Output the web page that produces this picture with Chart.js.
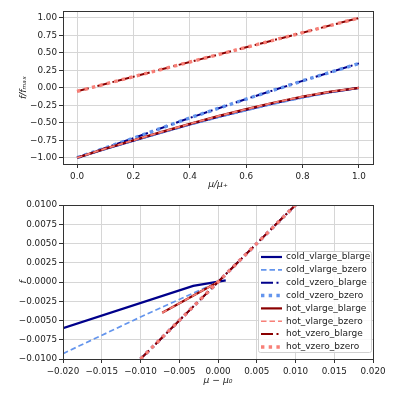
<!DOCTYPE html>
<html>
<head>
<meta charset="utf-8">
<script src="https://cdn.jsdelivr.net/npm/chart.js@4"></script>
<style>
  body { margin: 0; background: #fff; }
  #wrap { position: relative; width: 395px; height: 395px; }
  canvas { position: absolute; left: 0; }
</style>
</head>
<body>
<div id="wrap">
  <canvas id="topChart" width="395" height="197" style="top:0"></canvas>
  <canvas id="botChart" width="395" height="198" style="top:197px"></canvas>
</div>
<script>
// --- data ---
const seriesNames = ['cold_vlarge_blarge', 'cold_vlarge_bzero', 'cold_vzero_blarge', 'cold_vzero_bzero',
                     'hot_vlarge_blarge', 'hot_vlarge_bzero', 'hot_vzero_blarge', 'hot_vzero_bzero'];

// top panel: f/fmax against mu/mu+
const topMu = [0, 0.1, 0.2, 0.3, 0.4, 0.5, 0.6, 0.7, 0.8, 0.9, 1.0];
const topColdVlargeBlarge = [-1, -0.875, -0.755, -0.64, -0.525, -0.415, -0.315, -0.22, -0.135, -0.06, 0];
const topColdVlargeBzero  = [-1, -0.88, -0.76, -0.645, -0.53, -0.425, -0.325, -0.23, -0.145, -0.065, -0.005];
const topColdVzeroBlarge  = [-1, -0.86, -0.72, -0.575, -0.43, -0.295, -0.16, -0.03, 0.1, 0.225, 0.35];
const topColdVzeroBzero   = [-1, -0.86, -0.72, -0.575, -0.43, -0.295, -0.16, -0.03, 0.1, 0.225, 0.35];
const topHotVlargeBlarge  = [-1, -0.87, -0.75, -0.63, -0.515, -0.405, -0.305, -0.21, -0.125, -0.055, 0];
const topHotVlargeBzero   = [-1, -0.87, -0.75, -0.63, -0.515, -0.405, -0.305, -0.21, -0.125, -0.055, 0];
const topHotVzeroBlarge   = [-0.05, 0.055, 0.16, 0.265, 0.37, 0.475, 0.58, 0.685, 0.79, 0.895, 1.0];
const topHotVzeroBzero    = [-0.05, 0.055, 0.16, 0.265, 0.37, 0.475, 0.58, 0.685, 0.79, 0.895, 1.0];

// bottom panel: f against mu - mu0
const botColdVlargeBlargeX = [-0.02, -0.0032, 0.001];
const botColdVlargeBlargeY = [-0.006, -0.0005, 0.0002];
const botColdVlargeBzeroX  = [-0.02, -0.01, 0];
const botColdVlargeBzeroY  = [-0.0093, -0.00455, 0];
const botColdVzeroBlargeX  = [-0.01, 0.01];
const botColdVzeroBlargeY  = [-0.01, 0.01];
const botColdVzeroBzeroX   = [-0.01, 0.01];
const botColdVzeroBzeroY   = [-0.01, 0.01];
const botHotVlargeBlargeX  = [-0.0072, 0];
const botHotVlargeBlargeY  = [-0.004, 0];
const botHotVlargeBzeroX   = [-0.0072, 0];
const botHotVlargeBzeroY   = [-0.004, 0];
const botHotVzeroBlargeX   = [-0.01, 0.01];
const botHotVzeroBlargeY   = [-0.01, 0.01];
const botHotVzeroBzeroX    = [-0.01, 0.01];
const botHotVzeroBzeroY    = [-0.01, 0.01];

const topXTicks = [0, 0.2, 0.4, 0.6, 0.8, 1.0];
const topYTicks = [-1, -0.75, -0.5, -0.25, 0, 0.25, 0.5, 0.75, 1.0];
const botXTicks = [-0.02, -0.015, -0.01, -0.005, 0, 0.005, 0.01, 0.015, 0.02];
const botYTicks = [-0.01, -0.0075, -0.005, -0.0025, 0, 0.0025, 0.005, 0.0075, 0.01];

// --- styles ---
const styles = [
  { color: '#00008b', width: 2.2, dash: [] },
  { color: '#6495ed', width: 1.7, dash: [5.5, 3] },
  { color: '#00008b', width: 2.0, dash: [12, 3.5, 2, 3.5] },
  { color: '#6495ed', width: 3.4, dash: [3.4, 4.3] },
  { color: '#8b0000', width: 2.2, dash: [] },
  { color: '#f88078', width: 1.7, dash: [5.5, 3] },
  { color: '#8b0000', width: 2.0, dash: [12, 3.5, 2, 3.5] },
  { color: '#f88078', width: 3.4, dash: [3.4, 4.3] }
];

const FONT = 'DejaVu Sans';
Chart.defaults.font.family = FONT;
Chart.defaults.font.size = 8.8;
Chart.defaults.color = '#222';

function makeSets(xs, ys) {
  return seriesNames.map((name, i) => ({
    label: name,
    data: xs[i].map((x, j) => ({ x: x, y: ys[i][j] })),
    borderColor: styles[i].color,
    backgroundColor: styles[i].color,
    borderWidth: styles[i].width,
    borderDash: styles[i].dash,
    pointRadius: 0,
    fill: false,
    tension: 0,
    order: 7 - i   // later series drawn on top, like matplotlib
  }));
}

function fmt(v, dec) {
  return v.toFixed(dec).replace('-', '\u2212');
}

function axis(min, max, ticks, dec, title, isY, size, titlePad) {
  return {
    type: 'linear',
    min: min,
    max: max,
    afterBuildTicks: s => { s.ticks = ticks.map(v => ({ value: v })); },
    afterFit: s => { if (isY) s.width = size; else s.height = size; },
    ticks: { padding: isY ? 2 : 3, autoSkip: false, maxRotation: 0, callback: v => fmt(v, dec) },
    grid: { color: '#d6d6d6', tickColor: '#333', tickLength: 4, lineWidth: 1 },
    border: { display: false },
    title: {
      display: true, text: title,
      font: { size: 9.2, style: 'italic' },
      padding: isY ? { top: titlePad, bottom: 0 } : { top: 0, bottom: titlePad }
    }
  };
}

const boxPlugin = {
  id: 'box',
  afterDraw(chart) {
    const a = chart.chartArea, ctx = chart.ctx;
    ctx.save();
    ctx.strokeStyle = '#333';
    ctx.lineWidth = 1;
    ctx.strokeRect(Math.round(a.left) + 0.5, Math.round(a.top) + 0.5,
                   Math.round(a.right - a.left), Math.round(a.bottom - a.top));
    ctx.restore();
  }
};

// legend box inside the lower axes, as matplotlib draws it
const legendPlugin = {
  id: 'innerLegend',
  afterDraw(chart) {
    const ctx = chart.ctx;
    const x0 = 258, y0 = 54, w = 113, h = 101, step = 12.85;
    ctx.save();
    ctx.fillStyle = 'rgba(255,255,255,0.85)';
    ctx.strokeStyle = '#d0d0d0';
    ctx.lineWidth = 1;
    ctx.beginPath();
    ctx.roundRect(x0 + 0.5, y0 + 0.5, w, h, 2);
    ctx.fill();
    ctx.stroke();
    seriesNames.forEach((name, i) => {
      const y = y0 + 6 + i * step;
      ctx.strokeStyle = styles[i].color;
      ctx.lineWidth = styles[i].width;
      ctx.setLineDash(styles[i].dash);
      ctx.beginPath();
      ctx.moveTo(x0 + 3, y);
      ctx.lineTo(x0 + 24, y);
      ctx.stroke();
      ctx.setLineDash([]);
      ctx.fillStyle = '#222';
      ctx.font = '9px "' + FONT + '"';
      ctx.textBaseline = 'middle';
      ctx.fillText(name, x0 + 28, y);
    });
    ctx.restore();
  }
};

function baseOptions(padTop, xAxis, yAxis) {
  return {
    responsive: false,
    animation: false,
    devicePixelRatio: 1,
    layout: { padding: { left: 0, right: 22, top: padTop, bottom: 0 } },
    plugins: { legend: { display: false }, tooltip: { enabled: false } },
    scales: { x: xAxis, y: yAxis }
  };
}

new Chart(document.getElementById('topChart'), {
  type: 'line',
  data: {
    datasets: makeSets(
      [topMu, topMu, topMu, topMu, topMu, topMu, topMu, topMu],
      [topColdVlargeBlarge, topColdVlargeBzero, topColdVzeroBlarge, topColdVzeroBzero,
       topHotVlargeBlarge, topHotVlargeBzero, topHotVzeroBlarge, topHotVzeroBzero])
  },
  options: baseOptions(11,
    axis(-0.05, 1.05, topXTicks, 1, '\u03bc/\u03bc\u208a', false, 33, 7),
    axis(-1.09, 1.1, topYTicks, 2, 'f/f\u2098\u2090\u2093', true, 63, 18)),
  plugins: [boxPlugin]
});

new Chart(document.getElementById('botChart'), {
  type: 'line',
  data: {
    datasets: makeSets(
      [botColdVlargeBlargeX, botColdVlargeBzeroX, botColdVzeroBlargeX, botColdVzeroBzeroX,
       botHotVlargeBlargeX, botHotVlargeBzeroX, botHotVzeroBlargeX, botHotVzeroBzeroX],
      [botColdVlargeBlargeY, botColdVlargeBzeroY, botColdVzeroBlargeY, botColdVzeroBzeroY,
       botHotVlargeBlargeY, botHotVlargeBzeroY, botHotVzeroBlargeY, botHotVzeroBzeroY])
  },
  options: baseOptions(8,
    axis(-0.02, 0.02, botXTicks, 3, '\u03bc \u2212 \u03bc\u2080', false, 36, 9),
    axis(-0.01, 0.01, botYTicks, 4, 'f', true, 63, 18)),
  plugins: [boxPlugin, legendPlugin]
});
</script>
</body>
</html>
